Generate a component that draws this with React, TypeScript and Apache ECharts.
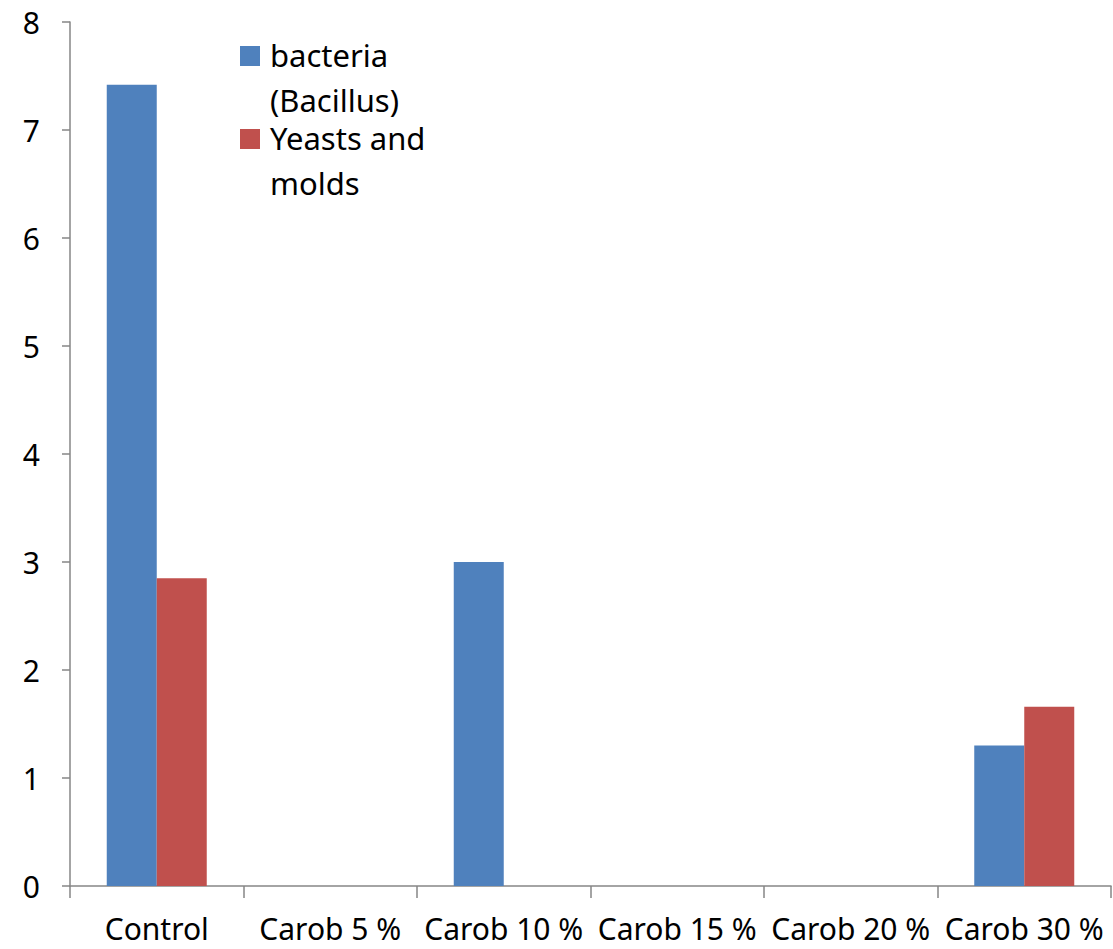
import React, { useEffect, useRef } from "react";
import * as echarts from "echarts";

const categories = ["Control", "Carob 5 %", "Carob 10 %", "Carob 15 %", "Carob 20 %", "Carob 30 %"];
const bacteriaName = "bacteria (Bacillus)";
const yeastName = "Yeasts and molds";
const bacteriaValues = [7.42, 0, 3.0, 0, 0, 1.3];
const yeastValues = [2.85, 0, 0, 0, 0, 1.66];
const legendLines = [["bacteria", "(Bacillus)"], ["Yeasts and", "molds"]];

const BLUE = "#4F81BD";
const RED = "#C0504D";
const AXIS = "#868686";
const FONT = "'Noto Sans', 'Open Sans', sans-serif";

export default function App() {
  const ref = useRef<HTMLDivElement>(null);

  useEffect(() => {
    if (!ref.current) return;
    const chart = echarts.init(ref.current, undefined, { renderer: "svg" });

    // Legend: a square per series, label wrapped on two lines
    const legendColors = [BLUE, RED];
    const legendGraphics: any[] = [];
    legendLines.forEach((lines, i) => {
      const top = 46 + i * 83;
      legendGraphics.push({
        type: "rect",
        x: 240,
        y: top,
        shape: { width: 20, height: 20 },
        style: { fill: legendColors[i] },
      });
      lines.forEach((line, j) => {
        legendGraphics.push({
          type: "text",
          x: 270,
          y: top + 9 + j * 45,
          style: {
            text: line,
            font: `31px ${FONT}`,
            verticalAlign: "middle",
            align: "left",
            fill: "#000",
          },
        });
      });
    });

    chart.setOption({
      animation: false,
      backgroundColor: "#fff",
      grid: { left: 70, right: 2, top: 22, bottom: 63, containLabel: false },
      xAxis: {
        type: "category",
        data: categories,
        axisLine: { lineStyle: { color: AXIS, width: 1.5 } },
        axisTick: { show: true, length: 12, lineStyle: { color: AXIS, width: 1.5 }, interval: 0 },
        axisLabel: {
          interval: 0,
          color: "#000",
          fontSize: 30,
          lineHeight: 30,
          fontFamily: FONT,
          margin: 27,
        },
        splitLine: { show: false },
      },
      yAxis: {
        type: "value",
        min: 0,
        max: 8,
        interval: 1,
        axisLine: { show: true, lineStyle: { color: AXIS, width: 1.5 } },
        axisTick: { show: true, length: 8, lineStyle: { color: AXIS, width: 1.5 } },
        axisLabel: { color: "#000", fontSize: 30, fontFamily: FONT, margin: 30 },
        splitLine: { show: false },
      },
      series: [
        {
          name: bacteriaName,
          type: "bar",
          data: bacteriaValues,
          barWidth: 50,
          barGap: "0%",
          itemStyle: { color: BLUE },
        },
        {
          name: yeastName,
          type: "bar",
          data: yeastValues,
          barWidth: 50,
          barGap: "0%",
          itemStyle: { color: RED },
        },
      ],
      graphic: legendGraphics,
    });

    return () => chart.dispose();
  }, []);

  return (
    <div
      ref={ref}
      style={{ position: "absolute", left: 0, top: 0, width: 1113, height: 949 }}
    />
  );
}
